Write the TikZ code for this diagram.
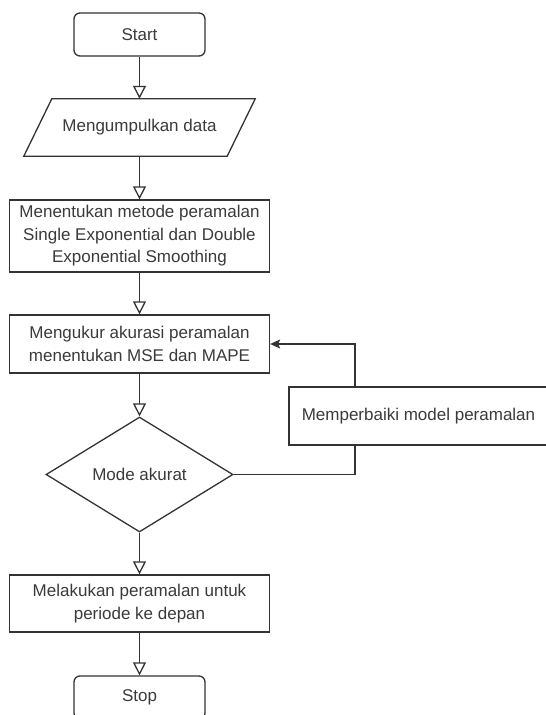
\documentclass[tikz,border=0pt]{standalone}
\usepackage{fontspec}
\setmainfont{Liberation Sans}
\usetikzlibrary{arrows.meta,shapes.geometric}
\definecolor{ln}{HTML}{333333}
\definecolor{tx}{HTML}{3A3A3A}
\begin{document}
\begin{tikzpicture}[x=1pt,y=-1pt,
  txt/.style={text=tx, font=\fontsize{17}{22.5}\selectfont, align=center, inner sep=0pt},
  box/.style={txt, draw=ln, line width=1.3pt, rectangle},
  term/.style={box, rounded corners=6pt},
  flow/.style={draw=ln, line width=1.3pt, -{Triangle[open,length=13pt,width=13pt]}},
  back/.style={draw=ln, line width=1.3pt, -{Stealth[length=10pt,width=9pt,inset=2pt]}},
  plain/.style={draw=ln, line width=1.3pt}]
\useasboundingbox (0,0) rectangle (546,715);
\node[term, minimum width=131pt, minimum height=43pt] (s) at (139.5,34.5) {Start};
\node[txt, minimum width=203pt, minimum height=57pt] (p) at (139.5,127.5) {Mengumpulkan data};
\draw[plain] ([xshift=14pt]p.north west) -- ([xshift=14pt]p.north east) -- ([xshift=-14pt]p.south east) -- ([xshift=-14pt]p.south west) -- cycle;
\node[box, minimum width=260pt, minimum height=72pt] (b3) at (139.5,236) {Menentukan metode peramalan\\Single Exponential dan Double\\Exponential Smoothing};
\node[box, minimum width=260pt, minimum height=58pt] (b4) at (139.5,344) {Mengukur akurasi peramalan\\menentukan MSE dan MAPE};
\node[txt, diamond, draw=ln, line width=1.3pt, minimum width=187pt, minimum height=115pt] (d) at (139.5,474.5) {Mode akurat};
\node[box, minimum width=260pt, minimum height=57pt] (b5) at (139.5,603.5) {Melakukan peramalan untuk\\periode ke depan};
\node[term, minimum width=131pt, minimum height=43pt] (e) at (139.5,697.5) {Stop};
\node[box, minimum width=259pt, minimum height=58pt] (f) at (418.5,416) {Memperbaiki model peramalan};
\draw[flow] (s.south) -- (p.north);
\draw[flow] (p.south) -- (b3.north);
\draw[flow] (b3.south) -- (b4.north);
\draw[flow] (b4.south) -- (d.north);
\draw[flow] (d.south) -- (b5.north);
\draw[flow] (b5.south) -- (e.north);
\draw[plain] (d.east) -| ([xshift=-63.5pt]f.south);
\draw[back] ([xshift=-63.5pt]f.north) |- (b4.east);
\end{tikzpicture}
\end{document}
